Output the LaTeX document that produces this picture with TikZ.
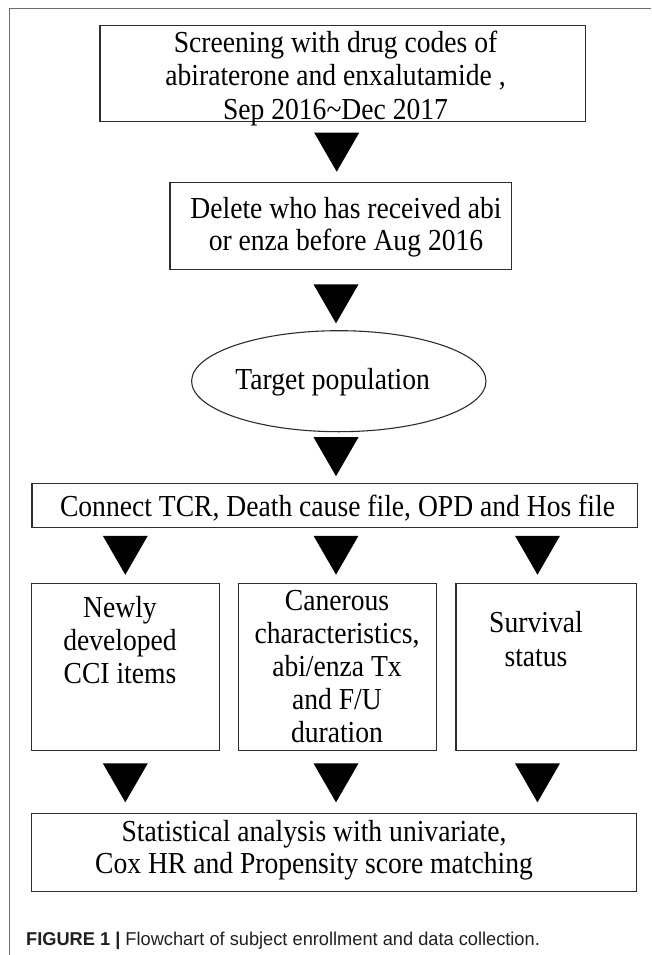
\documentclass[tikz,border=0pt]{standalone}
\usepackage{fontspec}
\setmainfont{Liberation Serif}[FakeStretch=0.905]
\newfontfamily\capfont{Liberation Sans}[FakeStretch=0.98]
\usetikzlibrary{shapes.geometric,calc}
\definecolor{framegray}{RGB}{110,110,110}
\definecolor{boxline}{RGB}{45,45,45}
\definecolor{captext}{RGB}{35,31,32}
\tikzset{
  box/.style={draw=boxline, line width=1.1pt, inner sep=0pt, outer sep=0pt},
  oval/.style={ellipse, draw=boxline, line width=1.1pt, inner sep=0pt, outer sep=0pt},
  txt/.style={inner sep=0pt, anchor=base, font=\fontsize{30.5pt}{33pt}\selectfont},
  tri/.pic={\fill[black] (-22.5,0) -- (22.5,0) -- (0,39) -- cycle;}
}
\newcommand{\lines}[1]{\begin{tabular}[t]{@{}c@{}}#1\end{tabular}}
\begin{document}
\begin{tikzpicture}[x=1pt,y=-1pt]
\useasboundingbox (0,0) rectangle (651,955);
\fill[white] (0,0) rectangle (651,955);
% frame
\draw[framegray, line width=1pt] (9.5,955) -- (9.5,8.5) -- (651,8.5);

% boxes
\node[box, minimum width=485.5pt, minimum height=96pt] (b1) at (342.7,73.7) {};
\node[txt, font=\fontsize{30.5pt}{33.5pt}\selectfont] (b1t) at (335.5,52.5) {\lines{Screening with drug codes of\\ abiraterone and enxalutamide ,\\ Sep 2016\textasciitilde Dec 2017}};

\node[box, minimum width=341.5pt, minimum height=87.3pt] (b2) at (340.7,225.7) {};
\node[txt, font=\fontsize{30.5pt}{32.4pt}\selectfont] (b2t) at (346,218.3) {\lines{Delete who has received abi\\ or enza before Aug 2016}};

\node[oval, minimum width=294.4pt, minimum height=101pt] (tp) at (338.8,381.2) {};
\node[txt] (tpt) at (332.7,389) {Target population};

\node[box, minimum width=605.7pt, minimum height=44.5pt] (cn) at (334.85,505.5) {};
\node[txt] (cnt) at (337.5,516.5) {Connect TCR, Death cause file, OPD and Hos file};

\node[box, minimum width=187.6pt, minimum height=167.2pt] (bl) at (125.5,666.9) {};
\node[txt, font=\fontsize{30.5pt}{33.3pt}\selectfont] (blt) at (120,617) {\lines{Newly\\ developed\\ CCI items}};

\node[box, minimum width=198.4pt, minimum height=166.7pt] (bm) at (337.5,666.7) {};
\node[txt, font=\fontsize{30.5pt}{32.9pt}\selectfont] (bmt) at (337,610.5) {\lines{Canerous\\ characteristics,\\ abi/enza Tx\\ and F/U\\ duration}};

\node[box, minimum width=180.7pt, minimum height=166.7pt] (br) at (546.35,666.7) {};
\node[txt, font=\fontsize{30.5pt}{34pt}\selectfont] (brt) at (536,632) {\lines{Survival\\ status}};

\node[box, minimum width=604.8pt, minimum height=78.4pt] (fb) at (334.1,852.5) {};
\node[txt, font=\fontsize{30.5pt}{32.3pt}\selectfont] (fbt) at (314,841.5) {\lines{Statistical analysis with univariate,\\ Cox HR and Propensity score matching}};

% triangle connectors
\pic at ($(b1.south)+(-6,11)$) {tri};
\pic at ($(b2.south)+(-4.7,15)$) {tri};
\pic at ($(tp.south)+(-2.8,5.5)$) {tri};
\pic at ($(cn.south)+(-209.55,8)$) {tri};
\pic at ($(cn.south)+(1.15,8)$) {tri};
\pic at ($(cn.south)+(202.65,8)$) {tri};
\pic at ($(bl.south)+(-0.2,12.8)$) {tri};
\pic at ($(bm.south)+(-1.5,13.3)$) {tri};
\pic at ($(br.south)+(-8.9,13.3)$) {tri};

% caption
\node[anchor=base west, inner sep=0pt, text=captext, font=\capfont\fontsize{18.6pt}{22pt}\selectfont] (cap) at (26,945) {\textbf{FIGURE 1 |} Flowchart of subject enrollment and data collection.};
\end{tikzpicture}
\end{document}
